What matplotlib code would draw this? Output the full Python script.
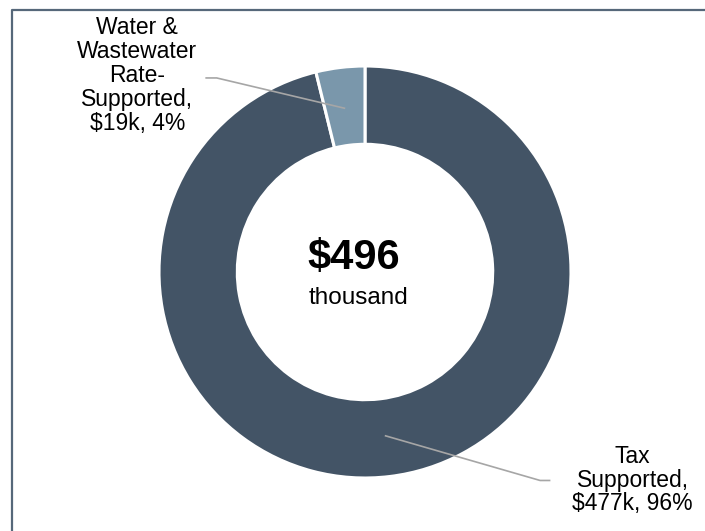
import numpy as np
import matplotlib
matplotlib.use("Agg")
import matplotlib.pyplot as plt
from matplotlib.lines import Line2D

plt.rcParams['font.family'] = ['Liberation Sans', 'DejaVu Sans']

# funding sources, thousands of dollars
categories = ["Tax\nSupported", "Water &\nWastewater\nRate-\nSupported"]
values = [477, 19]
total = 496
colors = ["#435466", "#7a97ab"]

W, H = 705, 531
fig = plt.figure(figsize=(W / 100, H / 100), dpi=100)
ax = fig.add_axes([0, 0, 1, 1])

wedges, _ = ax.pie(values, colors=colors, startangle=90, counterclock=False,
                   radius=1.0,
                   wedgeprops=dict(width=0.38, edgecolor="white", linewidth=2.2))

# donut placement in pixels: centre and outer radius
cx, cy, R = 365, 272, 206
ax.set_aspect("auto")
ax.set_xlim(-cx / R, (W - cx) / R)
ax.set_ylim(-(H - cy) / R, cy / R)
ax.axis("off")

ax.text(-0.055, 0.07, f"${total}", ha="center", va="center",
        fontsize=30, fontweight="bold", color="black")
ax.text(-0.03, -0.125, "thousand", ha="center", va="center",
        fontsize=17.5, color="black")

# data labels with leader lines from the middle of each wedge
label_pos = [(1.30, -1.01), (-1.105, 0.955)]
elbows = [(0.85, -1.012, 0.90), (-0.72, 0.942, -0.775)]
for w, cat, v, (lx, ly), (ex, ey, tx) in zip(wedges, categories, values, label_pos, elbows):
    mid = np.deg2rad((w.theta1 + w.theta2) / 2)
    px, py = 0.8 * np.cos(mid), 0.8 * np.sin(mid)
    ax.plot([px, ex, tx], [py, ey, ey], color="#a6a6a6", lw=1.2,
            solid_capstyle="butt")
    pct = round(100 * v / total)
    ax.text(lx, ly, f"{cat},\n${v}k, {pct}%", ha="center", va="center",
            fontsize=16.5, linespacing=1.05, color="black")

# chart frame (only top and left edges fall inside the image)
fig.add_artist(Line2D([11.5 / W, 11.5 / W, 1], [0, 1 - 10 / H, 1 - 10 / H],
                      transform=fig.transFigure, color="#56687a", lw=1.6))

fig.savefig("out.png", dpi=100)
